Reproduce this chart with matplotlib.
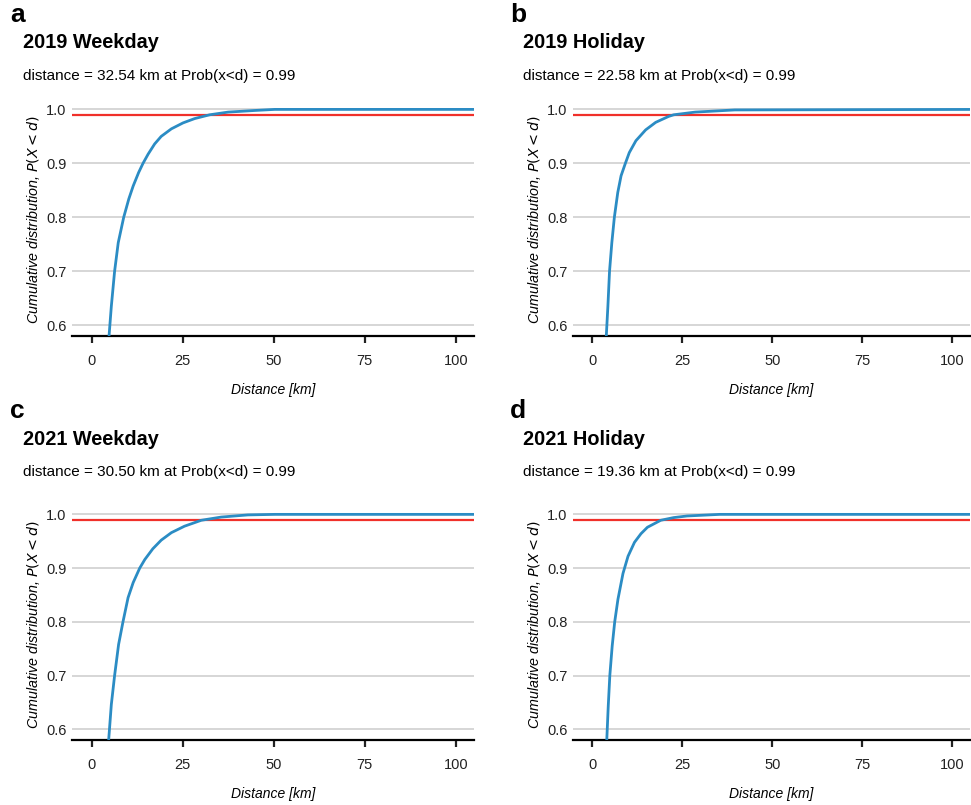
import matplotlib
matplotlib.use("Agg")
import matplotlib.pyplot as plt

plt.rcParams['font.family'] = ['Liberation Sans', 'DejaVu Sans']

panel_letters = ["a", "b", "c", "d"]
titles = ["2019 Weekday", "2019 Holiday", "2021 Weekday", "2021 Holiday"]
d99 = [32.54, 22.58, 30.50, 19.36]
prob_level = 0.99

dist_a = [4.76, 5.4, 6.3, 7.3, 8.8, 10.2, 11.4, 12.9, 14.1, 15.5, 17.3,
          19.1, 21.9, 25.1, 28.3, 32.4, 37.5, 44.8, 50.3, 110]
cdf_a = [0.579, 0.635, 0.70, 0.753, 0.80, 0.834, 0.858, 0.883, 0.90,
         0.917, 0.936, 0.950, 0.964, 0.975, 0.983, 0.99, 0.995, 0.998, 1.0, 1.0]
dist_b = [3.85, 4.3, 4.76, 5.4, 6.1, 7.05, 7.97, 9.16, 10.26, 12.1, 14.8,
          17.6, 21.2, 22.6, 28.6, 39.6, 110]
cdf_b = [0.579, 0.635, 0.70, 0.753, 0.80, 0.846, 0.877, 0.90, 0.92, 0.942,
         0.962, 0.976, 0.987, 0.99, 0.995, 0.999, 1.0]
dist_c = [4.67, 5.4, 6.3, 7.4, 8.6, 10.0, 11.4, 13.2, 14.6, 16.8, 19.1, 21.9,
          25.5, 30.1, 35.6, 42.9, 50.3, 110]
cdf_c = [0.58, 0.646, 0.70, 0.758, 0.80, 0.845, 0.873, 0.90, 0.916, 0.936,
         0.952, 0.966, 0.978, 0.989, 0.995, 0.999, 1.0, 1.0]
dist_d = [4.0, 4.4, 4.84, 5.5, 6.2, 7.1, 8.5, 9.9, 11.7, 13.5, 15.3, 19.0,
          22.6, 26.3, 35.4, 110]
cdf_d = [0.581, 0.643, 0.70, 0.755, 0.80, 0.842, 0.89, 0.922, 0.948, 0.964,
         0.976, 0.989, 0.994, 0.997, 1.0, 1.0]

dists = [dist_a, dist_b, dist_c, dist_d]
cdfs = [cdf_a, cdf_b, cdf_c, cdf_d]
xticks = [0, 25, 50, 75, 100]
yticks = [0.6, 0.7, 0.8, 0.9, 1.0]

W, H = 971, 805
fig = plt.figure(figsize=(W / 100, H / 100), dpi=100)

# axes boxes in pixels: left, right, top, bottom
boxes = [(72, 474, 104, 336), (573, 970, 104, 336),
         (72, 474, 509, 740), (573, 970, 509, 740)]
letter_pos = [(10, 15), (510, 15), (10, 411), (510, 411)]

for i in range(4):
    l, r, t, b = boxes[i]
    ax = fig.add_axes([l / W, 1 - b / H, (r - l) / W, (b - t) / H])
    ax.plot(dists[i], cdfs[i], color="#2b8cc4", lw=2, zorder=3)
    ax.axhline(prob_level, color="#f0302a", lw=1.6, zorder=2)
    ax.set_xlim(-5.4, 105)
    ax.set_ylim(0.58, 1.01)
    ax.set_xticks(xticks)
    ax.set_yticks(yticks)
    ax.set_yticklabels([f"{v:.1f}" for v in yticks])
    ax.grid(axis="y", color="#d3d3d3", lw=1.3, zorder=0)
    ax.set_axisbelow(True)
    for s in ["top", "right", "left"]:
        ax.spines[s].set_visible(False)
    ax.spines["bottom"].set_linewidth(1.6)
    ax.spines["bottom"].set_color("black")
    ax.tick_params(axis="y", length=0, labelsize=10.5, pad=4, colors="#222222")
    ax.tick_params(axis="x", length=5, width=1.6, labelsize=10.5, pad=8,
                   colors="#222222")
    ax.set_xlabel("Distance [km]", style="italic", fontsize=10, labelpad=11)
    ax.set_ylabel("Cumulative distribution, $P(X < d)$", style="italic",
                  fontsize=10.3, labelpad=3)
    lx, ly = letter_pos[i]
    fig.text(lx / W, 1 - ly / H, panel_letters[i], fontsize=19,
             fontweight="bold", va="center", ha="left")
    fig.text((lx + 13) / W, 1 - (ly + 28) / H, titles[i], fontsize=14.3,
             fontweight="bold", va="center", ha="left")
    fig.text((lx + 13) / W, 1 - (ly + 61) / H,
             f"distance = {d99[i]:.2f} km at Prob(x<d) = {prob_level:.2f}",
             fontsize=11, va="center", ha="left")

fig.savefig("out.png", dpi=100)
